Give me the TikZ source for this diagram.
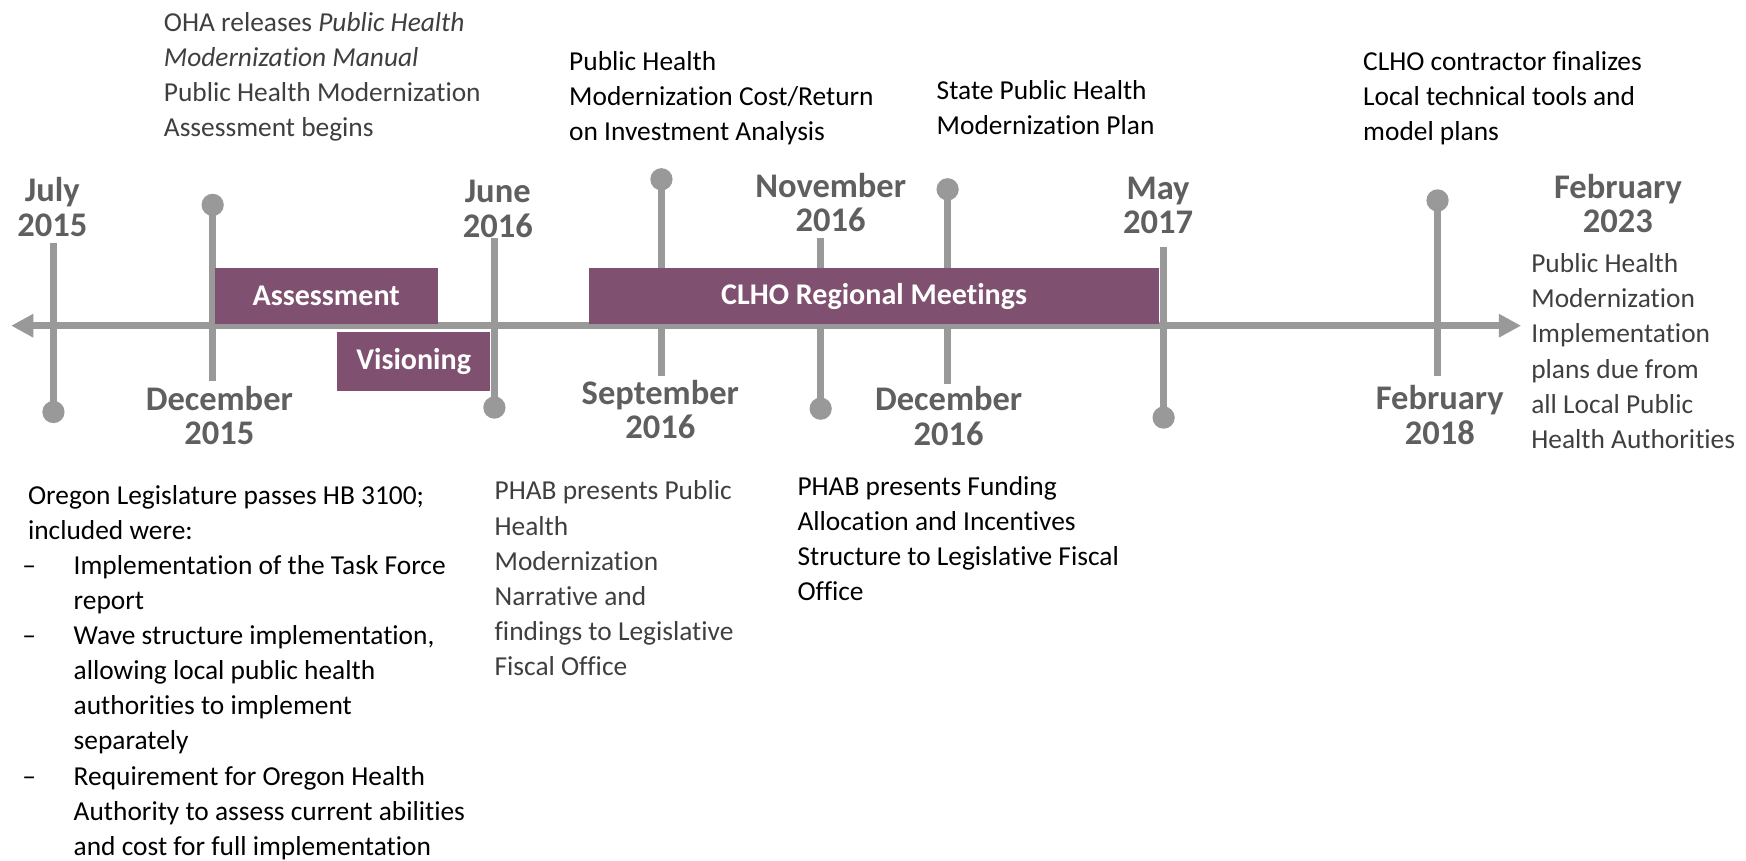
\documentclass[tikz,border=0pt]{standalone}
\usepackage{fontspec}
\setmainfont{Carlito}[Ligatures=NoCommon]
\usetikzlibrary{arrows.meta}
\definecolor{lngray}{HTML}{999999}
\definecolor{plum}{HTML}{7F5070}
\definecolor{dategray}{HTML}{5F5F5F}
\definecolor{txtgray}{HTML}{3F3F3F}
\begin{document}
\begin{tikzpicture}[x=1pt,y=-1pt,
  tick/.style={draw=lngray, line width=6.5pt},
  dot/.style={circle, fill=lngray, minimum size=20pt, inner sep=0pt},
  axisline/.style={draw=lngray, line width=6.5pt, {Triangle[length=20pt,width=20pt]}-{Triangle[length=20pt,width=20pt]}},
  datelbl/.style={text=dategray, font=\fontsize{31}{31}\selectfont\bfseries, align=center, inner sep=0pt, anchor=base},
  body/.style={font=\fontsize{24.6}{31.5}\selectfont, align=left, inner sep=0pt, anchor=base west},
  phase/.style={fill=plum, text=white, font=\fontsize{27}{30}\selectfont\bfseries, inner sep=0pt}]
\useasboundingbox (0,0) rectangle (1568,773);

% axis
\coordinate (axL) at (10,292.5);
\coordinate (axR) at (1366,292.5);
\draw[axisline] (axL) -- (axR);

% ticks
\node[dot] (d1) at (48,370) {};   \coordinate (e1) at (48,218);   \draw[tick] (e1) -- (d1.center);
\node[dot] (d2) at (191,184) {};  \coordinate (e2) at (191,342);  \draw[tick] (d2.center) -- (e2);
\node[dot] (d3) at (444,366) {};  \coordinate (e3) at (444,214);  \draw[tick] (e3) -- (d3.center);
\node[dot] (d4) at (594,161) {};  \coordinate (e4) at (594,338);  \draw[tick] (d4.center) -- (e4);
\node[dot] (d5) at (737,367) {};  \coordinate (e5) at (737,214);  \draw[tick] (e5) -- (d5.center);
\node[dot] (d6) at (851,170) {};  \coordinate (e6) at (851,345);  \draw[tick] (d6.center) -- (e6);
\node[dot] (d7) at (1045,375) {}; \coordinate (e7) at (1045,222); \draw[tick] (e7) -- (d7.center);
\node[dot] (d8) at (1291,180) {}; \coordinate (e8) at (1291,338); \draw[tick] (d8.center) -- (e8);

% phase boxes
\node[phase, minimum width=200pt, minimum height=50pt] (assess) at (293,266) {Assessment};
\node[phase, minimum width=137pt, minimum height=53pt] (vision) at (371.5,324.5) {Visioning};
\node[phase, minimum width=512pt, minimum height=50pt] (clho) at (785,266) {CLHO Regional Meetings};

% date labels (anchor = baseline of last line)
\node[datelbl] (l1) at (47,212) {July\\2015};
\node[datelbl] (l2) at (197,399.5) {December\\2015};
\node[datelbl] (l3) at (447,213) {June\\2016};
\node[datelbl] (l4) at (593,394) {September\\2016};
\node[datelbl] (l5) at (746,208) {November\\2016};
\node[datelbl] (l6) at (852,400) {December\\2016};
\node[datelbl] (l7) at (1040,210) {May\\2017};
\node[datelbl] (l8) at (1293,399) {February\\2018};
\node[datelbl] (l9) at (1453,209) {February\\2023};

% texts (anchor = baseline of last line)
\node[body, text=txtgray] (oha) at (147,122.5) {OHA releases \textit{Public Health}\\\textit{Modernization Manual}\\Public Health Modernization\\Assessment begins};
\node[body] (cost) at (511,126) {Public Health\\Modernization Cost/Return\\on Investment Analysis};
\node[body] (state) at (841,120.5) {State Public Health\\Modernization Plan};
\node[body] (tools) at (1224,126) {CLHO contractor finalizes\\Local technical tools and\\model plans};
\node[body, text=txtgray] (due) at (1375,402.5) {Public Health\\Modernization\\Implementation\\plans due from\\all Local Public\\Health Authorities};
\node[body] (hb) at (20,768) {\hspace*{5pt}Oregon Legislature passes HB 3100;\\\hspace*{5pt}included were:\\\makebox[46pt][l]{–}Implementation of the Task Force\\\hspace*{46pt}report\\\makebox[46pt][l]{–}Wave structure implementation,\\\hspace*{46pt}allowing local public health\\\hspace*{46pt}authorities to implement\\\hspace*{46pt}separately\\\makebox[46pt][l]{–}Requirement for Oregon Health\\\hspace*{46pt}Authority to assess current abilities\\\hspace*{46pt}and cost for full implementation};
\node[body, text=txtgray] (narr) at (444,606.5) {PHAB presents Public\\Health\\Modernization\\Narrative and\\findings to Legislative\\Fiscal Office};
\node[body] (fund) at (716,539.5) {PHAB presents Funding\\Allocation and Incentives\\Structure to Legislative Fiscal\\Office};
\end{tikzpicture}
\end{document}
